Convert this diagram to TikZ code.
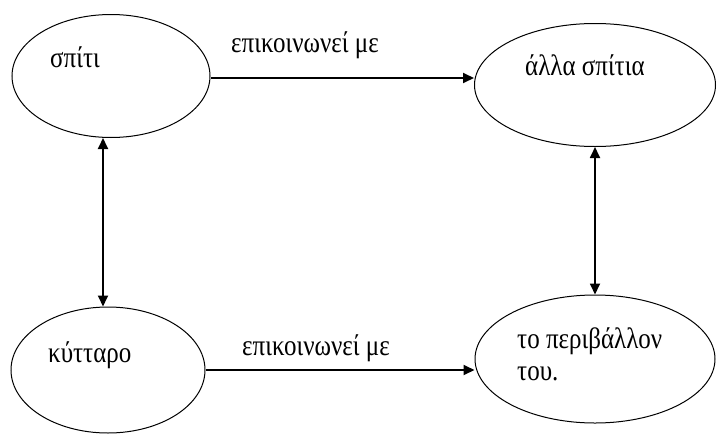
\documentclass[tikz,border=0pt]{standalone}
\usepackage{graphicx}
\usepackage{fontspec}
\setmainfont{Liberation Serif}
\usetikzlibrary{shapes.geometric,arrows.meta}
\newcommand{\tallword}[1]{\scalebox{1}[1.18]{#1}}
\begin{document}
\begin{tikzpicture}[x=1pt,y=-1pt,
  bubble/.style={draw,ellipse,line width=1pt,inner sep=0pt},
  word/.style={font=\fontsize{25}{29}\selectfont,inner sep=0pt,anchor=base west},
  link/.style={line width=1.8pt,-{Triangle[length=11pt,width=10pt]}},
  twoway/.style={line width=1.8pt,{Triangle[length=11pt,width=10pt]}-{Triangle[length=11pt,width=10pt]}}]
\fill[white] (0,0) rectangle (717,434);
\useasboundingbox (0,0) rectangle (717,434);
% the four ellipses
\node[bubble,minimum width=198pt,minimum height=123pt] (home) at (111,76) {};
\node[bubble,minimum width=241pt,minimum height=123pt] (homes) at (595,85) {};
\node[bubble,minimum width=194pt,minimum height=126pt] (cell) at (108,370) {};
\node[bubble,minimum width=240pt,minimum height=128pt] (env) at (595,359) {};
% texts inside the ellipses
\node[word] (t1) at (50,67) {\tallword{σπίτι}};
\node[word] (t2) at (525,75) {\tallword{άλλα σπίτια}};
\node[word] (t3) at (48,362) {\tallword{κύτταρο}};
\node[word] (t4) at (517,348) {\tallword{το περιβάλλον}};
\node[word] (t5) at (517,380) {\tallword{του.}};
% edge labels
\node[word] (l1) at (231,52) {\tallword{επικοινωνεί με}};
\node[word] (l2) at (242,355) {\tallword{επικοινωνεί με}};
% connectors
\draw[link] (home.east |- 0,78) coordinate (a1) -- (a1 -| homes.west);
\draw[link] (cell.east |- 0,370) coordinate (a2) -- (a2 -| env.west);
\draw[twoway] (home.south -| 103,0) coordinate (b1) -- (103,0 |- cell.north);
\draw[twoway] (homes.south) -- (env.north);
\end{tikzpicture}
\end{document}
